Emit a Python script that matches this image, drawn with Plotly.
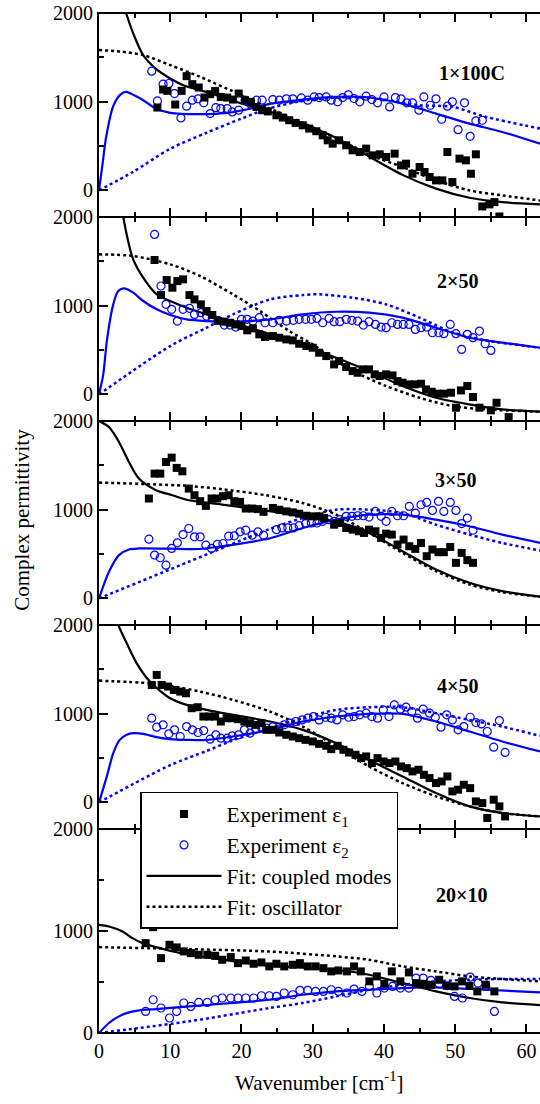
import plotly.graph_objects as go
from plotly.subplots import make_subplots

# ---------------- data ----------------
PANEL_LABELS = ["1×100C", "2×50", "3×50", "4×50", "20×10"]

# Panel 1 : 1x100C
P1_E1_X = [8.2, 9.0, 9.6, 10.7, 11.6, 12.3, 13.1, 14.0, 14.8, 15.6, 16.3, 17.1, 18.0, 18.8, 19.6, 20.5, 21.3, 22.1, 22.9, 23.7,
           24.9, 25.8, 26.7, 27.6, 28.6, 29.5, 30.5, 31.4, 32.1, 32.8, 33.7, 34.7, 35.6, 36.6, 37.5, 38.4, 39.4, 40.3, 41.5, 42.4,
           43.1, 44.0, 45.0, 45.7, 46.4, 47.3, 48.2, 48.9, 49.6, 50.6, 51.5, 52.2, 52.9, 53.8, 54.8, 55.5, 56.2]
P1_E1_Y = [934, 1137, 1122, 968, 1122, 1288, 1198, 1160, 1047, 1085, 1122, 1054, 1047, 1024, 1092, 1017, 998, 941, 904, 890,
           847, 821, 791, 761, 734, 697, 667, 621, 565, 527, 565, 508, 452, 433, 471, 395, 407, 377, 414, 282,
           301, 188, 264, 207, 151, 113, 113, 433, 94, 358, 339, 188, 407, -181, -158, -132, -294]
P1_E2_X = [7.4, 8.2, 9.0, 9.8, 10.6, 11.5, 12.3, 13.1, 13.9, 14.7, 15.6, 16.4, 17.1, 18.0, 18.7, 19.6, 20.5, 21.3, 22.1, 22.9,
           24.4, 25.3, 26.3, 27.2, 28.4, 29.3, 30.2, 30.9, 31.9, 32.6, 33.5, 34.2, 35.0, 35.8, 36.6, 37.5, 38.3, 39.1, 40.0, 40.8,
           41.6, 42.4, 43.2, 44.0, 44.9, 45.6, 46.5, 47.3, 48.1, 48.9, 49.6, 50.4, 51.3, 52.1, 52.9, 53.8]
P1_E2_Y = [1344, 1009, 1198, 1205, 1092, 817, 949, 1017, 1032, 987, 866, 934, 923, 923, 885, 904, 1017, 972, 1017, 1017,
           1024, 1017, 1032, 1032, 1043, 1017, 1054, 1047, 1054, 1017, 998, 1047, 1077, 1036, 998, 1062, 1024, 987, 1054, 941,
           1047, 1032, 987, 987, 904, 1054, 960, 1032, 802, 949, 998, 685, 987, 610, 783, 791]
P1_C1_X = [3.0, 3.8, 4.8, 6.2, 8.0, 10.0, 12.0, 14.2, 17.0, 20.0, 23.5, 28.6, 33.3, 37.5, 42.6, 47.3, 52.0, 56.6, 61.9]
P1_C1_Y = [2220, 2000, 1770, 1525, 1370, 1262, 1180, 1130, 1060, 979, 900, 753, 590, 400, 175, 20, -83, -132, -158]
P1_O1_X = [0, 3.0, 6.2, 10.0, 14.2, 20.0, 23.5, 28.6, 33.3, 38.0, 42.6, 47.3, 52.0, 56.6, 61.9]
P1_O1_Y = [1582, 1565, 1525, 1412, 1280, 1073, 941, 760, 590, 400, 264, 113, 0, -56, -113]
P1_C2_X = [0, 0.5, 1.0, 2.0, 3.0, 3.8, 5.0, 6.2, 8.0, 10.0, 14.0, 18.0, 22.0, 24.0, 28.6, 33.3, 37.9, 42.6, 47.3, 52.0, 56.6, 61.9]
P1_C2_Y = [0, 300, 600, 950, 1080, 1110, 1070, 1017, 923, 874, 859, 874, 935, 975, 1024, 1054, 1047, 979, 866, 753, 659, 527]
P1_O2_X = [0, 4.8, 10.0, 15.1, 20.0, 23.5, 28.6, 33.3, 37.9, 42.6, 45.0, 49.6, 54.3, 61.9]
P1_O2_Y = [0, 210, 470, 650, 810, 915, 1010, 1045, 1047, 990, 960, 942, 829, 697]

# Panel 2 : 2x50
P2_E1_X = [7.8, 8.7, 9.5, 10.3, 11.0, 11.8, 12.7, 13.4, 14.3, 15.1, 15.9, 16.7, 17.6, 18.4, 19.2, 20.0, 20.8, 21.6, 22.5, 23.3,
           24.4, 25.3, 26.3, 27.2, 28.1, 29.1, 30.0, 30.9, 31.9, 33.0, 33.7, 34.7, 35.6, 36.3, 37.0, 37.9, 38.7, 39.4, 40.3, 41.2,
           41.9, 42.6, 43.5, 44.3, 45.2, 45.9, 46.7, 47.5, 48.4, 49.4, 50.1, 50.8, 51.7, 52.5, 53.4, 55.0, 55.8, 57.5]
P2_E1_Y = [1515, 1120, 1289, 1203, 1278, 1297, 1120, 1071, 1015, 940, 895, 827, 820, 808, 789, 771, 722, 744, 677, 647,
           658, 639, 620, 609, 571, 545, 526, 470, 432, 338, 376, 308, 263, 244, 282, 282, 226, 207, 226, 214,
           150, 132, 113, 113, 120, 56, 30, 8, 8, 19, -150, 45, 94, -30, -150, -180, -94, -256]
P2_E2_X = [7.8, 8.7, 9.4, 10.2, 11.0, 11.8, 12.7, 13.4, 14.3, 15.1, 15.9, 16.7, 17.6, 18.4, 19.2, 20.0, 20.8, 21.6, 22.5, 23.3,
           24.4, 25.3, 26.3, 27.3, 28.1, 29.0, 29.8, 30.6, 31.4, 32.3, 33.0, 33.8, 34.7, 35.5, 36.3, 37.1, 37.9, 38.8, 39.6, 40.3,
           41.1, 41.9, 42.7, 43.5, 44.4, 45.2, 46.0, 46.8, 47.7, 48.4, 49.3, 50.1, 50.9, 51.7, 52.5, 53.4, 54.2, 55.0]
P2_E2_Y = [1804, 1222, 1015, 959, 827, 959, 970, 902, 921, 883, 865, 835, 782, 782, 759, 846, 846, 827, 865, 808,
           808, 835, 827, 835, 846, 846, 846, 857, 808, 857, 820, 820, 846, 835, 827, 782, 820, 789, 759, 752,
           808, 789, 789, 789, 733, 752, 759, 695, 695, 684, 789, 684, 507, 677, 639, 714, 571, 496]
P2_C1_X = [2.8, 3.4, 4.0, 4.8, 6.2, 8.1, 10.0, 12.3, 15.1, 18.8, 24.0, 28.6, 33.3, 37.9, 42.6, 47.3, 52.0, 56.6, 61.9]
P2_C1_Y = [2250, 2000, 1760, 1522, 1316, 1128, 1053, 977, 902, 808, 680, 564, 413, 263, 94, -38, -113, -169, -195]
P2_O1_X = [0, 4.8, 10.0, 14.2, 18.8, 22.6, 26.7, 30.0, 33.3, 37.1, 40.3, 45.0, 49.6, 54.3, 61.9]
P2_O1_Y = [1579, 1560, 1466, 1334, 1128, 940, 714, 564, 376, 207, 94, -38, -132, -169, -195]
P2_C2_X = [0, 0.6, 1.1, 2.0, 2.7, 3.5, 4.8, 6.2, 8.1, 10.0, 12.3, 15.1, 18.8, 24.0, 28.6, 33.3, 37.9, 42.6, 47.3, 52.0, 56.6, 61.9]
P2_C2_Y = [0, 225, 601, 1015, 1165, 1195, 1147, 1053, 959, 895, 846, 827, 820, 846, 902, 932, 921, 865, 752, 639, 583, 526]
P2_O2_X = [0, 10.0, 15.1, 18.8, 24.0, 28.6, 30.9, 35.6, 40.3, 45.0, 49.6, 54.3, 61.9]
P2_O2_Y = [0, 545, 752, 902, 1071, 1120, 1128, 1090, 1015, 865, 700, 610, 526]

# Panel 3 : 3x50
P3_E1_X = [7.0, 7.8, 8.6, 9.4, 10.2, 10.9, 11.7, 12.6, 13.4, 14.2, 15.0, 15.8, 16.6, 17.4, 18.2, 19.0, 19.8, 20.6, 21.5, 22.3,
           23.1, 24.4, 25.3, 26.3, 27.2, 28.1, 29.1, 30.0, 30.9, 31.6, 33.0, 33.8, 34.7, 35.6, 36.5, 37.2, 37.9, 38.8, 39.6, 40.3,
           41.1, 41.9, 42.75, 43.55, 44.4, 45.2, 46.0, 46.8, 47.65, 48.4, 49.3, 50.1, 50.9, 51.7, 52.5]
P3_E1_Y = [1126, 1407, 1407, 1538, 1587, 1471, 1433, 1238, 1163, 1096, 1043, 1126, 1126, 1152, 1163, 1096, 1088, 1013, 1013, 1006,
           976, 1019, 1000, 981, 970, 955, 932, 925, 925, 906, 831, 850, 794, 775, 757, 738, 775, 757, 682, 730,
           719, 607, 663, 588, 558, 625, 476, 551, 521, 521, 580, 401, 513, 431, 401]
P3_E2_X = [7.0, 7.8, 8.6, 9.4, 10.2, 11.0, 11.8, 12.6, 13.4, 14.2, 15.0, 15.8, 16.6, 17.4, 18.2, 19.0, 19.8, 20.6, 21.5, 22.3,
           23.1, 24.9, 25.7, 26.5, 27.3, 28.1, 29.0, 29.8, 30.6, 31.4, 32.25, 33.0, 33.8, 34.7, 35.5, 36.3, 37.1, 37.9, 38.8, 39.6,
           40.3, 41.1, 41.9, 42.75, 43.55, 44.4, 45.2, 46.0, 46.8, 47.65, 48.4, 49.3, 50.1, 50.9, 51.7, 52.5]
P3_E2_Y = [668, 488, 458, 375, 563, 627, 720, 788, 694, 694, 600, 563, 608, 619, 702, 705, 750, 769, 713, 750,
           713, 775, 794, 794, 794, 820, 843, 850, 850, 869, 888, 869, 888, 925, 925, 932, 932, 917, 981, 925,
           869, 981, 932, 932, 1037, 962, 1056, 1082, 992, 1094, 981, 1082, 992, 843, 906, 768]
P3_C1_X = [0, 1.4, 2.8, 4.2, 5.6, 8.0, 10.3, 12.6, 17.3, 23.0, 28.6, 33.3, 37.9, 42.6, 47.3, 52.0, 56.6, 61.9]
P3_C1_Y = [2000, 1932, 1764, 1538, 1351, 1220, 1163, 1107, 1058, 994, 925, 869, 738, 532, 326, 176, 82, 19]
P3_O1_X = [0, 12.6, 17.3, 23.4, 28.6, 33.3, 37.9, 42.6, 47.3, 52.0, 56.6, 61.9]
P3_O1_Y = [1306, 1268, 1231, 1163, 1075, 944, 738, 513, 307, 157, 71, 19]
P3_C2_X = [0, 1.4, 2.8, 4.2, 5.6, 10.0, 14.0, 17.3, 23.9, 28.6, 33.3, 37.9, 42.6, 47.3, 52.0, 56.6, 61.9]
P3_C2_Y = [0, 300, 488, 552, 563, 560, 557, 589, 675, 794, 888, 944, 944, 888, 813, 719, 625]
P3_O2_X = [0, 12.6, 23.9, 28.6, 33.3, 37.9, 42.6, 47.3, 52.0, 56.6, 61.9]
P3_O2_Y = [0, 413, 780, 906, 1000, 1000, 962, 831, 719, 625, 540]

# Panel 4 : 4x50
P4_E1_X = [7.4, 8.1, 8.8, 9.7, 10.5, 11.4, 12.2, 13.0, 13.85, 14.65, 15.5, 16.3, 17.1, 17.9, 18.7, 19.5, 20.4, 21.2, 22.0, 22.8,
           23.5, 24.4, 25.3, 26.3, 27.2, 28.1, 29.0, 30.0, 30.9, 31.9, 32.6, 33.5, 34.3, 35.1, 36.0, 36.8, 37.5, 38.3, 39.1, 39.95,
           40.75, 41.6, 42.4, 43.2, 44.0, 44.85, 45.6, 46.4, 47.3, 48.1, 48.9, 49.6, 50.4, 51.2, 52.1, 52.9, 53.8, 54.5, 55.4, 56.2,
           57.0]
P4_E1_Y = [1324, 1437, 1324, 1306, 1268, 1249, 1231, 1062, 1073, 968, 968, 968, 912, 949, 949, 938, 912, 893, 874, 893,
           818, 818, 788, 762, 743, 724, 705, 687, 660, 638, 600, 638, 593, 563, 537, 499, 518, 443, 499, 461,
           443, 461, 405, 386, 349, 368, 311, 274, 218, 236, 293, 124, 143, 199, 161, 11, -8, -176, 30, -45,
           -158]
P4_E2_X = [7.4, 8.1, 9.0, 9.8, 10.6, 11.4, 12.3, 13.1, 13.9, 14.7, 15.6, 16.4, 17.1, 18.0, 18.7, 19.6, 20.4, 21.2, 22.0, 22.8,
           23.5, 24.4, 25.2, 26.0, 26.8, 27.6, 28.5, 29.3, 30.1, 30.9, 31.8, 32.6, 33.4, 34.2, 35.05, 35.8, 36.6, 37.5, 38.3, 39.1,
           39.9, 40.7, 41.45, 42.3, 43.1, 43.9, 44.7, 45.5, 46.4, 47.2, 48.0, 48.8, 49.6, 50.4, 51.2, 52.1, 52.9, 53.7, 54.5, 55.4,
           56.2, 57.0]
P4_E2_Y = [949, 848, 874, 773, 818, 743, 855, 818, 788, 810, 713, 762, 724, 724, 750, 762, 818, 780, 825, 848,
           837, 855, 818, 874, 893, 912, 930, 949, 968, 930, 960, 949, 930, 987, 960, 968, 987, 1006, 968, 949,
           1043, 968, 1099, 1051, 1073, 1024, 949, 1051, 1006, 960, 848, 987, 930, 818, 855, 960, 900, 885, 799, 623,
           923, 563]
P4_C1_X = [1.5, 2.7, 3.9, 5.3, 7.15, 10.0, 12.3, 15.1, 18.8, 24.0, 28.6, 33.3, 37.9, 42.6, 47.3, 52.0, 56.6, 61.9]
P4_C1_Y = [2260, 2000, 1793, 1568, 1362, 1174, 1099, 1043, 987, 912, 818, 668, 480, 293, 105, -45, -120, -158]
P4_O1_X = [0, 7.15, 10.0, 14.2, 18.8, 24.0, 28.6, 33.3, 37.9, 42.6, 47.3, 52.0, 56.6, 61.9]
P4_O1_Y = [1373, 1343, 1313, 1249, 1156, 1024, 855, 630, 405, 218, 68, -45, -120, -158]
P4_C2_X = [0, 1.1, 2.0, 2.9, 3.9, 4.8, 6.2, 8.1, 10.0, 12.3, 15.1, 18.8, 24.0, 28.6, 33.3, 37.9, 42.6, 47.3, 52.0, 56.6, 61.9]
P4_C2_Y = [0, 293, 555, 705, 762, 780, 773, 735, 713, 705, 705, 743, 818, 912, 968, 998, 998, 912, 799, 687, 574]
P4_O2_X = [0, 10.0, 15.1, 18.8, 24.0, 28.6, 33.3, 37.9, 42.6, 47.3, 52.0, 56.6, 61.9]
P4_O2_Y = [0, 420, 580, 700, 837, 949, 1043, 1073, 1073, 1006, 930, 855, 750]

# Panel 5 : 20x10
P5_E1_X = [6.55, 7.6, 8.7, 9.9, 10.9, 11.9, 12.9, 14.0, 15.2, 16.3, 17.3, 18.5, 19.5, 20.6, 21.7, 22.8, 23.9, 24.9, 26.0, 27.2,
           28.2, 29.3, 30.4, 31.5, 32.6, 33.6, 34.8, 35.8, 36.75, 37.95, 39.0, 40.05, 41.1, 42.3, 43.5, 44.5, 45.5, 46.6, 47.75, 48.8,
           49.9, 50.95, 52.0, 53.1, 54.3, 55.5]
P5_E1_Y = [881, 1038, 734, 865, 839, 800, 783, 767, 767, 757, 718, 744, 685, 711, 679, 692, 653, 679, 653, 669,
           685, 653, 653, 636, 604, 613, 604, 653, 604, 506, 555, 483, 604, 506, 594, 489, 483, 473, 522, 463,
           457, 506, 463, 408, 473, 408]
P5_E2_X = [6.55, 7.6, 8.7, 9.9, 10.9, 11.9, 12.9, 14.0, 15.2, 16.3, 17.3, 18.5, 19.5, 20.6, 21.7, 22.8, 23.9, 24.9, 26.0, 27.2,
           28.2, 29.3, 30.4, 31.5, 32.6, 33.6, 34.8, 35.8, 36.9, 37.95, 39.0, 40.05, 41.2, 42.3, 43.5, 44.5, 45.5, 46.6, 47.75, 48.9,
           49.9, 51.0, 52.1, 53.2, 54.3, 55.5]
P5_E2_Y = [212, 326, 245, 147, 212, 294, 261, 300, 300, 326, 343, 343, 343, 343, 343, 365, 365, 359, 392, 375,
           418, 418, 408, 408, 424, 408, 392, 431, 408, 457, 392, 440, 457, 440, 440, 538, 538, 516, 483, 463,
           359, 343, 548, 489, 457, 212]
P5_C1_X = [0, 1.4, 3.3, 4.7, 6.1, 8.0, 10.4, 12.7, 17.4, 23.9, 28.6, 33.3, 37.9, 42.6, 47.3, 52.0, 56.6, 61.9]
P5_C1_Y = [1060, 1044, 995, 930, 881, 842, 799, 767, 718, 660, 640, 620, 571, 489, 408, 343, 300, 274]
P5_O1_X = [0, 12.7, 23.9, 33.3, 37.9, 42.6, 47.3, 52.0, 56.6, 61.9]
P5_O1_Y = [842, 822, 799, 751, 718, 653, 604, 555, 529, 506]
P5_C2_X = [0, 1.4, 2.8, 4.2, 5.6, 8.0, 12.7, 17.4, 23.9, 28.6, 33.3, 37.9, 42.6, 46.3, 49.6, 54.3, 61.9]
P5_C2_Y = [0, 98, 163, 202, 222, 235, 261, 287, 326, 375, 408, 424, 440, 450, 440, 424, 398]
P5_O2_X = [0, 12.7, 23.9, 28.6, 33.3, 37.9, 42.6, 47.3, 52.0, 56.6, 61.9]
P5_O2_Y = [0, 115, 245, 294, 359, 424, 473, 506, 522, 529, 529]

Y_RANGES = [[-300, 2000], [-300, 2000], [-300, 2000], [-300, 2000], [0, 2000]]
LABEL_POS = [(52.4, 1322), (50.3, 1277), (50.0, 1333), (50.3, 1307), (50.9, 1353)]

LEGEND_NAMES = ["Experiment ε<sub>1</sub>", "Experiment ε<sub>2</sub>", "Fit: coupled modes", "Fit: oscillator"]

PANELS = [
    (P1_E1_X, P1_E1_Y, P1_E2_X, P1_E2_Y, P1_C1_X, P1_C1_Y, P1_O1_X, P1_O1_Y, P1_C2_X, P1_C2_Y, P1_O2_X, P1_O2_Y),
    (P2_E1_X, P2_E1_Y, P2_E2_X, P2_E2_Y, P2_C1_X, P2_C1_Y, P2_O1_X, P2_O1_Y, P2_C2_X, P2_C2_Y, P2_O2_X, P2_O2_Y),
    (P3_E1_X, P3_E1_Y, P3_E2_X, P3_E2_Y, P3_C1_X, P3_C1_Y, P3_O1_X, P3_O1_Y, P3_C2_X, P3_C2_Y, P3_O2_X, P3_O2_Y),
    (P4_E1_X, P4_E1_Y, P4_E2_X, P4_E2_Y, P4_C1_X, P4_C1_Y, P4_O1_X, P4_O1_Y, P4_C2_X, P4_C2_Y, P4_O2_X, P4_O2_Y),
    (P5_E1_X, P5_E1_Y, P5_E2_X, P5_E2_Y, P5_C1_X, P5_C1_Y, P5_O1_X, P5_O1_Y, P5_C2_X, P5_C2_Y, P5_O2_X, P5_O2_Y),
]

# ---------------- styling ----------------
FONT = "Liberation Serif"
BLUE = "#0000ff"
BLACK = "#000000"
DOT = "3px,3px"

fig = make_subplots(rows=5, cols=1, shared_xaxes=True, vertical_spacing=0)

for i, p in enumerate(PANELS):
    row = i + 1
    e1x, e1y, e2x, e2y, c1x, c1y, o1x, o1y, c2x, c2y, o2x, o2y = p
    first = (i == 0)
    fig.add_trace(go.Scatter(x=o2x, y=o2y, mode="lines", line=dict(color=BLUE, width=2.5, dash=DOT, shape="spline", smoothing=0.8),
                             showlegend=False, hoverinfo="skip"), row=row, col=1)
    fig.add_trace(go.Scatter(x=c2x, y=c2y, mode="lines", line=dict(color=BLUE, width=2.2, shape="spline", smoothing=0.8),
                             showlegend=False, hoverinfo="skip"), row=row, col=1)
    fig.add_trace(go.Scatter(x=o1x, y=o1y, mode="lines", name=LEGEND_NAMES[3], legendrank=4,
                             line=dict(color=BLACK, width=2.5, dash=DOT, shape="spline", smoothing=0.8),
                             showlegend=first, legendgroup="o1"), row=row, col=1)
    fig.add_trace(go.Scatter(x=c1x, y=c1y, mode="lines", name=LEGEND_NAMES[2], legendrank=3,
                             line=dict(color=BLACK, width=2.2, shape="spline", smoothing=0.8),
                             showlegend=first, legendgroup="c1"), row=row, col=1)
    fig.add_trace(go.Scatter(x=e2x, y=e2y, mode="markers", name=LEGEND_NAMES[1], legendrank=2,
                             marker=dict(symbol="circle-open", size=8, color=BLUE, line=dict(width=1.2, color=BLUE)),
                             showlegend=first, legendgroup="e2"), row=row, col=1)
    fig.add_trace(go.Scatter(x=e1x, y=e1y, mode="markers", name=LEGEND_NAMES[0], legendrank=1,
                             marker=dict(symbol="square", size=8, color=BLACK),
                             showlegend=first, legendgroup="e1"), row=row, col=1)

    fig.update_yaxes(range=Y_RANGES[i], tickvals=[0, 1000, 2000], ticks="inside", ticklen=9, tickwidth=2,
                     tickcolor=BLACK, showline=True, linecolor=BLACK, linewidth=2, showgrid=False, zeroline=False,
                     automargin=False, ticklabeloverflow="allow",
                     minor=dict(tickvals=[500, 1500], ticks="inside", ticklen=5, tickwidth=2, tickcolor=BLACK),
                     tickfont=dict(family=FONT, size=20, color=BLACK), row=row, col=1)
    fig.update_xaxes(range=[0, 61.9], dtick=10, tick0=0, ticks="inside", ticklen=9, tickwidth=2, tickcolor=BLACK,
                     showline=True, linecolor=BLACK, linewidth=1, mirror="ticks", showgrid=False, zeroline=False,
                     automargin=False, ticklabeloverflow="allow",
                     minor=dict(dtick=5, ticks="inside", ticklen=5, tickwidth=2, tickcolor=BLACK),
                     tickfont=dict(family=FONT, size=20, color=BLACK), row=row, col=1)

    lx, ly = LABEL_POS[i]
    suffix = "" if row == 1 else str(row)
    fig.add_annotation(x=lx, y=ly, xref="x" + suffix, yref="y" + suffix, text="<b>" + PANEL_LABELS[i] + "</b>",
                       showarrow=False, xanchor="center", yanchor="middle",
                       font=dict(family=FONT, size=20, color=BLACK))

# outer top / bottom frame lines (the shared inner boundaries are two 1px lines)
fig.add_shape(type="line", xref="paper", yref="paper", x0=0, x1=1, y0=1, y1=1,
              line=dict(color=BLACK, width=2))
fig.add_shape(type="line", xref="paper", yref="paper", x0=0, x1=1, y0=0, y1=0,
              line=dict(color=BLACK, width=2))

fig.add_annotation(x=-0.175, y=0.503, xref="paper", yref="paper", text="Complex permittivity", textangle=-90,
                   showarrow=False, xanchor="center", yanchor="middle",
                   font=dict(family=FONT, size=21, color=BLACK))
fig.add_annotation(x=0.501, y=-0.048, xref="paper", yref="paper", text="Wavenumber [cm<sup>-1</sup>]",
                   showarrow=False, xanchor="center", yanchor="middle",
                   font=dict(family=FONT, size=21, color=BLACK))

fig.update_layout(
    width=540, height=1104,
    margin=dict(l=99, r=0, t=13, b=71),
    paper_bgcolor="white", plot_bgcolor="white",
    font=dict(family=FONT, size=20, color=BLACK),
    legend=dict(x=0.093, y=0.2363, xanchor="left", yanchor="top", bgcolor="white", bordercolor=BLACK,
                borderwidth=1.5, font=dict(family=FONT, size=21.5, color=BLACK), itemwidth=75, tracegroupgap=0,
                traceorder="normal"),
)

# remove the default 8px page margin so the 540x1104 figure fills the window exactly
fig.write_html("out.html", config={"displayModeBar": False},
               post_script="document.body.style.margin='0px';document.body.style.overflow='hidden';")
